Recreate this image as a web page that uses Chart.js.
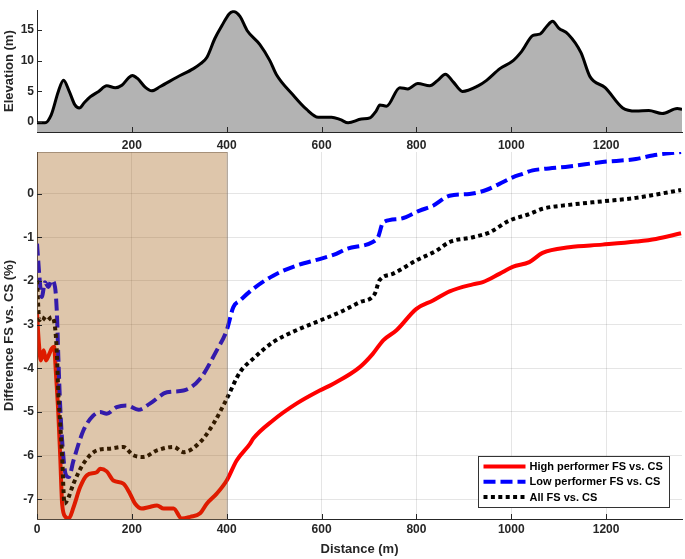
<!DOCTYPE html>
<html>
<head>
<meta charset="utf-8">
<script src="https://cdn.jsdelivr.net/npm/chart.js@4.4.1/dist/chart.umd.min.js"></script>
<style>
  html, body { margin: 0; padding: 0; background: #fff; }
  #wrap { position: relative; width: 685px; height: 559px; }
  #wrap canvas { position: absolute; left: 0; }
  #elev { top: 0; }
  #diff { top: 140px; }
</style>
</head>
<body>
<div id="wrap">
  <canvas id="elev" width="685" height="152"></canvas>
  <canvas id="diff" width="685" height="419"></canvas>
</div>
<script>
/* ── Course profile (top panel) ─────────────────────────────── */
const elevDist = [0, 17, 30, 45, 56, 68, 80, 89, 100, 112, 130, 147, 165, 179, 193, 201, 212, 228, 242, 260,
  295, 330, 345, 358, 375, 390, 405, 414, 428, 443, 470, 491, 505, 540, 568, 593, 621, 640, 656, 684,
  702, 715, 723, 737, 765, 782, 803, 828, 845, 861, 878, 897, 930, 948, 976, 1004, 1022, 1046, 1060, 1075,
  1087, 1100, 1120, 1147, 1166, 1198, 1235, 1263, 1290, 1318, 1350, 1360];
const elevValues = [-0.1, -0.1, 1.2, 5.0, 6.8, 5.0, 2.8, 2.3, 3.2, 4.1, 5.0, 5.9, 5.6, 6.0, 7.2, 7.6, 7.1, 5.7, 5.1, 5.8,
  7.3, 8.7, 9.5, 10.5, 13.6, 15.7, 17.6, 18.0, 17.2, 14.9, 12.6, 10.0, 7.7, 4.4, 2.1, 0.8, 0.8, 0.4, -0.1, 0.5,
  0.7, 1.8, 2.8, 2.6, 5.6, 5.4, 6.3, 5.9, 6.8, 7.8, 6.5, 5.0, 5.9, 6.8, 8.7, 10.0, 11.5, 14.1, 14.3, 15.6,
  16.4, 15.3, 14.3, 11.3, 7.4, 5.6, 2.3, 1.8, 1.9, 1.4, 2.2, 2.1];

/* ── Difference FS vs CS (bottom panel) ─────────────────────── */
const highDist = [0, 3.5, 8, 14, 19, 26, 31, 36, 40, 45, 49, 53, 60, 67, 77, 91, 105, 126, 133, 147,
  161, 182, 196, 207, 221, 235, 253, 267, 288, 305, 323, 344, 358, 379, 400, 421, 449, 456, 498, 547,
  596, 624, 680, 708, 730, 758, 800, 835, 870, 919, 940, 975, 1003, 1038, 1066, 1122, 1192, 1263, 1305, 1358];
const highValues = [-2.75, -3.36, -3.82, -3.59, -3.82, -3.67, -3.55, -3.51, -4.13, -5.04, -6.03, -7.1, -7.4, -7.44, -7.18, -6.72, -6.45, -6.38, -6.3, -6.36,
  -6.57, -6.64, -6.87, -7.1, -7.21, -7.18, -7.14, -7.21, -7.21, -7.44, -7.4, -7.32, -7.1, -6.87, -6.57, -6.11, -5.73, -5.61, -5.19, -4.81,
  -4.51, -4.36, -3.98, -3.67, -3.36, -3.13, -2.64, -2.45, -2.24, -2.08, -2.03, -1.84, -1.68, -1.57, -1.36, -1.23, -1.17, -1.1, -1.04, -0.91];

const lowDist = [0, 7, 10, 17, 24, 31, 38, 42, 45, 49, 53, 60, 67, 77, 98, 119, 133, 147, 168, 189,
  214, 238, 274, 309, 344, 379, 400, 414, 428, 456, 498, 547, 596, 631, 652, 708, 719, 730, 765, 807,
  835, 870, 912, 947, 975, 1003, 1024, 1045, 1066, 1122, 1192, 1263, 1298, 1358];
const lowValues = [-1.15, -2.14, -2.37, -2.03, -2.14, -1.99, -2.14, -2.75, -3.75, -4.89, -5.65, -6.41, -6.49, -6.11, -5.42, -5.08, -5.0, -5.04, -4.89, -4.85,
  -4.95, -4.81, -4.55, -4.51, -4.24, -3.59, -3.13, -2.6, -2.45, -2.18, -1.88, -1.65, -1.5, -1.38, -1.27, -1.11, -1.0, -0.66, -0.58, -0.39,
  -0.28, -0.05, -0.01, 0.08, 0.22, 0.37, 0.45, 0.53, 0.56, 0.62, 0.72, 0.79, 0.87, 0.95];

const allDist = [0, 5, 10, 21, 31, 38, 42, 45, 49, 53, 58, 64, 77, 98, 126, 154, 182, 203, 224, 253,
  288, 309, 344, 372, 400, 428, 456, 498, 547, 596, 638, 680, 712, 722, 750, 800, 842, 870, 919, 954,
  996, 1038, 1066, 1122, 1192, 1263, 1312, 1358];
const allValues = [-1.99, -2.9, -2.83, -2.91, -2.83, -3.06, -3.67, -4.58, -5.27, -6.03, -7.1, -7.02, -6.64, -6.18, -5.88, -5.84, -5.8, -5.99, -6.03, -5.88,
  -5.8, -5.92, -5.69, -5.27, -4.7, -4.09, -3.78, -3.4, -3.13, -2.91, -2.72, -2.49, -2.3, -1.99, -1.84, -1.53, -1.31, -1.11, -1.0, -0.89,
  -0.62, -0.47, -0.35, -0.26, -0.18, -0.1, -0.01, 0.08];

const seriesLabels = ['High performer FS vs. CS', 'Low performer FS vs. CS', 'All FS vs. CS'];

const distTicks     = [0, 200, 400, 600, 800, 1000, 1200];
const elevDistTicks = [200, 400, 600, 800, 1000, 1200];
const elevTicks     = [0, 5, 10, 15];
const diffTicks     = [-7, -6, -5, -4, -3, -2, -1, 0];
const shadeRange    = [0, 400];

const pts = (xs, ys) => xs.map((x, i) => ({ x, y: ys[i] }));
const setTicks = list => scale => { scale.ticks = list.map(value => ({ value })); };

Chart.defaults.font.family = "'Liberation Sans', Arial, sans-serif";
Chart.defaults.font.weight = 'bold';
Chart.defaults.color = '#262626';

const AXIS_INK = '#262626';
const tickFont  = { size: 12, weight: 'bold' };
const titleFont = { size: 13, weight: 'bold' };

// MATLAB-style tick marks pointing into the plot area
const innerTicks = {
  id: 'innerTicks',
  afterDatasetsDraw(chart) {
    const { ctx, chartArea: a, scales: { x, y } } = chart;
    ctx.save();
    ctx.strokeStyle = AXIS_INK;
    ctx.lineWidth = 1;
    ctx.beginPath();
    x.ticks.forEach(t => {
      const px = Math.round(x.getPixelForValue(t.value)) + 0.5;
      ctx.moveTo(px, a.bottom); ctx.lineTo(px, a.bottom - 5);
    });
    y.ticks.forEach(t => {
      const py = Math.round(y.getPixelForValue(t.value)) + 0.5;
      ctx.moveTo(a.left, py); ctx.lineTo(a.left + 5, py);
    });
    ctx.stroke();
    ctx.restore();
  }
};

// translucent patch over the first 400 m
const shade = {
  id: 'shade',
  afterDatasetsDraw(chart) {
    const { ctx, chartArea: a, scales: { x } } = chart;
    const x0 = x.getPixelForValue(shadeRange[0]);
    const x1 = x.getPixelForValue(shadeRange[1]);
    ctx.save();
    ctx.fillStyle = 'rgba(155,82,0,0.33)';
    ctx.fillRect(x0, a.top, x1 - x0, a.bottom - a.top);
    ctx.strokeStyle = 'rgba(120,100,80,0.55)';
    ctx.lineWidth = 1;
    ctx.strokeRect(Math.round(x0) + 0.5, Math.round(a.top) + 0.5, Math.round(x1 - x0), Math.round(a.bottom - a.top));
    ctx.restore();
  }
};

// boxed legend in the lower right corner
const cornerLegend = {
  id: 'cornerLegend',
  afterDraw(chart) {
    const { ctx, chartArea: a } = chart;
    const w = 191, h = 51;
    const left = Math.round(a.right - 13 - w) + 0.5;
    const top = Math.round(a.bottom - 12 - h) + 0.5;
    ctx.save();
    ctx.fillStyle = '#fff';
    ctx.fillRect(left, top, w, h);
    ctx.strokeStyle = '#333';
    ctx.lineWidth = 1;
    ctx.strokeRect(left, top, w, h);
    ctx.font = "bold 11px 'Liberation Sans', Arial, sans-serif";
    ctx.textBaseline = 'middle';
    ctx.fillStyle = '#000';
    chart.data.datasets.forEach((ds, i) => {
      const cy = top + 10 + i * 15.3;
      ctx.save();
      ctx.strokeStyle = ds.borderColor;
      ctx.lineWidth = ds.borderWidth;
      ctx.setLineDash(ds.borderDash || []);
      ctx.beginPath();
      ctx.moveTo(left + 5, cy); ctx.lineTo(left + 47, cy);
      ctx.stroke();
      ctx.restore();
      ctx.fillText(ds.label, left + 51, cy + 0.5);
    });
    ctx.restore();
  }
};

new Chart(document.getElementById('elev'), {
  type: 'line',
  data: {
    datasets: [{
      data: pts(elevDist, elevValues),
      borderColor: '#000',
      borderWidth: 3,
      backgroundColor: '#b3b3b3',
      fill: 'start',
      pointRadius: 0,
      cubicInterpolationMode: 'monotone',
    }]
  },
  options: {
    responsive: false,
    animation: false,
    layout: { padding: { top: 3, right: 3, left: 0, bottom: 0 } },
    plugins: { legend: { display: false }, tooltip: { enabled: false } },
    scales: {
      x: {
        type: 'linear', min: 0, max: 1360,
        afterBuildTicks: setTicks(elevDistTicks),
        afterFit: s => { s.height = 20; },
        grid: { color: 'rgba(0,0,0,0)', drawTicks: false },
        border: { display: true, color: AXIS_INK, width: 1 },
        ticks: { font: tickFont, padding: 6, maxRotation: 0, callback: v => String(v) }
      },
      y: {
        min: -1.6, max: 18.2,
        afterBuildTicks: setTicks(elevTicks),
        afterFit: s => { s.width = 37; },
        grid: { color: 'rgba(0,0,0,0)', drawTicks: false },
        border: { display: true, color: AXIS_INK, width: 1 },
        ticks: { font: tickFont, padding: 3, callback: v => String(v) },
        title: { display: true, text: 'Elevation (m)', font: titleFont, padding: { top: 2, bottom: 0 } }
      }
    }
  },
  plugins: [innerTicks]
});

new Chart(document.getElementById('diff'), {
  type: 'line',
  data: {
    datasets: [
      { label: seriesLabels[0], data: pts(highDist, highValues), borderColor: '#ff0000', borderWidth: 4,
        order: 2 },
      { label: seriesLabels[1], data: pts(lowDist, lowValues), borderColor: '#0000ff', borderWidth: 4,
        borderDash: [12, 5], order: 1 },
      { label: seriesLabels[2], data: pts(allDist, allValues), borderColor: '#000000', borderWidth: 4,
        borderDash: [4, 3.4], order: 0 },
    ].map(ds => ({ ...ds, fill: false, pointRadius: 0, clip: 0, cubicInterpolationMode: 'monotone' }))
  },
  options: {
    responsive: false,
    animation: false,
    layout: { padding: { top: 12, right: 3, left: 0, bottom: 0 } },
    plugins: { legend: { display: false }, tooltip: { enabled: false } },
    scales: {
      x: {
        type: 'linear', min: 0, max: 1360,
        afterBuildTicks: setTicks(distTicks),
        afterFit: s => { s.height = 40; },
        grid: { color: 'rgba(0,0,0,0.1)', drawTicks: false },
        border: { display: true, color: AXIS_INK, width: 1 },
        ticks: { font: tickFont, padding: 3, maxRotation: 0, callback: v => String(v) },
        title: { display: true, text: 'Distance (m)', font: titleFont, padding: { top: 0, bottom: 2 } }
      },
      y: {
        min: -7.45, max: 0.95,
        afterBuildTicks: setTicks(diffTicks),
        afterFit: s => { s.width = 37; },
        grid: { color: 'rgba(0,0,0,0.1)', drawTicks: false },
        border: { display: true, color: AXIS_INK, width: 1 },
        ticks: { font: tickFont, padding: 3, callback: v => String(v) },
        title: { display: true, text: 'Difference FS vs. CS (%)', font: titleFont, padding: { top: 2, bottom: 0 } }
      }
    }
  },
  plugins: [shade, innerTicks, cornerLegend]
});
</script>
</body>
</html>
